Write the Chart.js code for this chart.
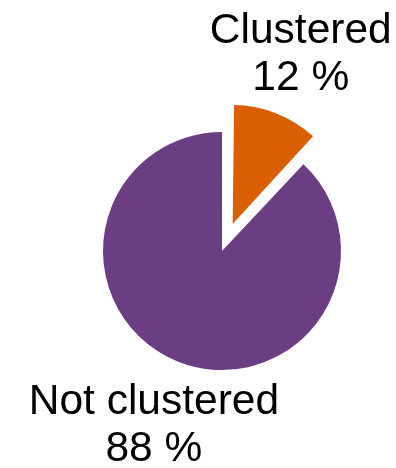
<!DOCTYPE html>
<html>
<head>
<meta charset="utf-8">
<script src="https://cdn.jsdelivr.net/npm/chart.js@4/dist/chart.umd.min.js"></script>
<style>
html,body{margin:0;padding:0;background:#fff;}
#wrap{width:396px;height:468px;position:relative;}
</style>
</head>
<body>
<div id="wrap"><canvas id="c" width="396" height="468"></canvas></div>
<script>
const categories = ["Clustered", "Not clustered"];
const values = [12, 88];
const valueLabels = ["12 %", "88 %"];
const colors = ["#d95f02", "#6b3d82"];
const offsets = [116, 0];

const FONT = '42.5px "Liberation Sans", Arial, Helvetica, sans-serif';

const radiusFix = {
  id: 'radiusFix',
  afterDatasetsUpdate(chart) {
    const meta = chart.getDatasetMeta(0);
    meta.data.forEach((arc, i) => {
      const off = (offsets[i] || 0) / 4;
      const circ = arc.endAngle - arc.startAngle;
      const fix = 1 - Math.sin(Math.min(Math.PI, circ || 0));
      arc.outerRadius -= off * fix;
    });
  }
};

const outsideLabels = {
  id: 'outsideLabels',
  afterDraw(chart) {
    const ctx = chart.ctx;
    const meta = chart.getDatasetMeta(0);
    const R = meta.controller.outerRadius;
    ctx.save();
    ctx.font = FONT;
    ctx.fillStyle = '#000';
    ctx.textAlign = 'center';
    ctx.textBaseline = 'middle';
    meta.data.forEach((arc, i) => {
      const mid = (arc.startAngle + arc.endAngle) / 2;
      const off = (offsets[i] || 0) / 4;
      const cx = arc.x + Math.cos(mid) * off;
      const cy = arc.y + Math.sin(mid) * off;
      const d = R + 66;
      const lx = cx + Math.cos(mid) * d;
      const ly = cy + Math.sin(mid) * d + 3;
      const lh = 47;
      ctx.fillText(categories[i], lx, ly - lh / 2);
      ctx.fillText(valueLabels[i], lx, ly + lh / 2);
    });
    ctx.restore();
  }
};

new Chart(document.getElementById('c'), {
  type: 'pie',
  data: {
    labels: categories,
    datasets: [{
      data: values,
      backgroundColor: colors,
      borderWidth: 0,
      offset: offsets,
      hoverOffset: 0
    }]
  },
  options: {
    responsive: false,
    animation: false,
    events: [],
    radius: 119,
    layout: { padding: { left: 48, right: 0, top: 34, bottom: 0 } },
    plugins: {
      legend: { display: false },
      tooltip: { enabled: false }
    }
  },
  plugins: [radiusFix, outsideLabels]
});
</script>
</body>
</html>
